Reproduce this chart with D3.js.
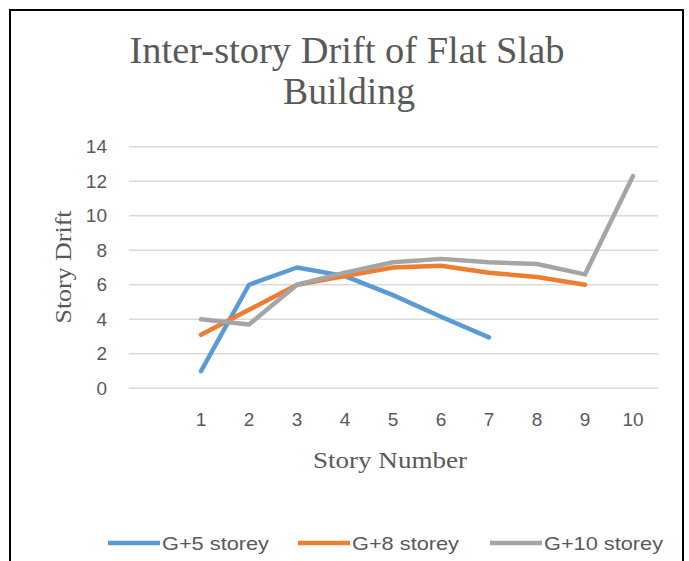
<!DOCTYPE html>
<html>
<head>
<meta charset="utf-8">
<script src="https://cdn.jsdelivr.net/npm/d3@7"></script>
<style>
  html, body { margin: 0; padding: 0; background: #fff; }
  #chart { width: 689px; height: 561px; }
</style>
</head>
<body>
<div id="chart"></div>
<script>
// story numbers on the x axis
const categories = ["1", "2", "3", "4", "5", "6", "7", "8", "9", "10"];
// drift values
const g5 = [1.0, 6.0, 7.0, 6.5, 5.4, 4.15, 2.95];
const g8 = [3.1, 4.55, 6.0, 6.5, 7.0, 7.1, 6.7, 6.45, 6.0];
const g10 = [4.0, 3.7, 6.0, 6.7, 7.3, 7.5, 7.3, 7.2, 6.6, 12.3];
const yTicks = [0, 2, 4, 6, 8, 10, 12, 14];
const seriesNames = ["G+5 storey", "G+8 storey", "G+10 storey"];
const seriesColors = ["#5B9BD5", "#ED7D31", "#A5A5A5"];

const series = [g5, g8, g10].map((vals, i) => ({
    name: seriesNames[i],
    color: seriesColors[i],
    values: vals.map((v, j) => ({ cat: categories[j], v }))
}));

const width = 689, height = 561;
const svg = d3.select("#chart").append("svg")
    .attr("width", width)
    .attr("height", height);

svg.append("rect").attr("width", width).attr("height", height).attr("fill", "#fff");

// chart frame (bottom edge runs off the picture)
svg.append("rect")
    .attr("x", 10).attr("y", 10)
    .attr("width", 673).attr("height", 600)
    .attr("fill", "none")
    .attr("stroke", "#000")
    .attr("stroke-width", 2);

// first band is an empty category, as in the source sheet
const x = d3.scaleBand()
    .domain(["", ...categories])
    .range([129, 657]);

const y = d3.scaleLinear()
    .domain([0, 14])
    .range([388.3, 146.7]);

const cx = d => x(d) + x.bandwidth() / 2;

// gridlines
svg.append("g")
    .selectAll("line")
    .data(yTicks)
    .enter().append("line")
    .attr("x1", 129).attr("x2", 658)
    .attr("y1", d => y(d)).attr("y2", d => y(d))
    .attr("stroke", "#D9D9D9")
    .attr("stroke-width", 1.5);

// y axis labels
const yAxis = svg.append("g")
    .attr("transform", "translate(107,0)")
    .call(d3.axisLeft(y).tickValues(yTicks).tickSize(0).tickPadding(0));
yAxis.select(".domain").remove();
yAxis.selectAll("text")
    .attr("font-family", "'Liberation Sans', Arial, sans-serif")
    .attr("font-size", 19)
    .attr("fill", "#595959");

// x axis labels
const xAxis = svg.append("g")
    .attr("transform", "translate(0,412)")
    .call(d3.axisBottom(x).tickValues(categories).tickSize(0).tickPadding(0));
xAxis.select(".domain").remove();
xAxis.selectAll("text")
    .attr("font-family", "'Liberation Sans', Arial, sans-serif")
    .attr("font-size", 19)
    .attr("fill", "#595959");

// lines
const line = d3.line()
    .x(d => cx(d.cat))
    .y(d => y(d.v));

svg.append("g")
    .selectAll("path")
    .data(series)
    .enter().append("path")
    .attr("d", d => line(d.values))
    .attr("fill", "none")
    .attr("stroke", d => d.color)
    .attr("stroke-width", 4.5)
    .attr("stroke-linejoin", "round")
    .attr("stroke-linecap", "round");

// title
const title = svg.append("text")
    .attr("x", 347)
    .attr("text-anchor", "middle")
    .attr("font-family", "'Liberation Serif', 'Times New Roman', serif")
    .attr("font-size", 38)
    .attr("fill", "#595959");
title.append("tspan").attr("x", 347).attr("y", 63)
    .attr("textLength", 435).attr("lengthAdjust", "spacingAndGlyphs")
    .text("Inter-story Drift of Flat Slab");
title.append("tspan").attr("x", 349).attr("y", 104)
    .attr("textLength", 132).attr("lengthAdjust", "spacingAndGlyphs")
    .text("Building");

// axis titles
svg.append("text")
    .attr("x", 390).attr("y", 468)
    .attr("text-anchor", "middle")
    .attr("font-family", "'Liberation Serif', 'Times New Roman', serif")
    .attr("font-size", 24)
    .attr("fill", "#595959")
    .attr("textLength", 154).attr("lengthAdjust", "spacingAndGlyphs")
    .text("Story Number");

svg.append("text")
    .attr("transform", "translate(71,267) rotate(-90)")
    .attr("text-anchor", "middle")
    .attr("font-family", "'Liberation Serif', 'Times New Roman', serif")
    .attr("font-size", 24)
    .attr("fill", "#595959")
    .attr("textLength", 113).attr("lengthAdjust", "spacingAndGlyphs")
    .text("Story Drift");

// legend
const legendX = [108, 298, 490];
const legendTextW = [107, 107, 119];
const legend = svg.append("g")
    .selectAll("g")
    .data(series)
    .enter().append("g")
    .attr("transform", (d, i) => `translate(${legendX[i]},543)`);
legend.append("line")
    .attr("x1", 0).attr("x2", 52)
    .attr("stroke", d => d.color)
    .attr("stroke-width", 4.5);
legend.append("text")
    .attr("x", 54).attr("y", 7)
    .attr("font-family", "'Liberation Sans', Arial, sans-serif")
    .attr("font-size", 19)
    .attr("fill", "#595959")
    .attr("textLength", (d, i) => legendTextW[i]).attr("lengthAdjust", "spacingAndGlyphs")
    .text(d => d.name);
</script>
</body>
</html>
